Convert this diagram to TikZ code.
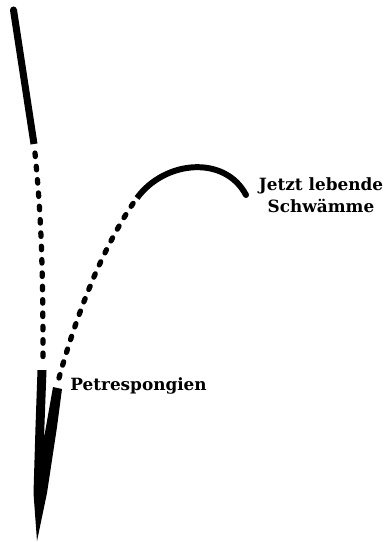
\documentclass[tikz,border=0pt]{standalone}
\usepackage{fontspec}
\newfontfamily\slabfont{DejaVu Serif}
\tikzset{
  beads/.style={line width=3pt, line cap=round, dash pattern=on 2pt off 5.6pt},
  stem/.style={line width=4pt},
  namefont/.style={font=\slabfont\bfseries\fontsize{9.6}{12.5}\selectfont, inner sep=0pt, align=center}
}
\begin{document}
\begin{tikzpicture}[x=0.02cm,y=-0.02cm]
\useasboundingbox (0,0) rectangle (392,542);

%upper stem
\draw[stem] (34,144) -- (13.5,10);
\fill (13.5,10) circle (2pt);
\draw[beads] (35,153) .. controls (41,215) and (43,260) .. (43,364);

%lower stems
\fill (37.5,370) -- (46.5,370) -- (44,438) -- (53,387) -- (62,389) -- (57,427)
      -- (47,493) -- (37,541) -- (33.5,493) -- (35.5,427) -- cycle;

%branch to living sponges
\draw[beads] (59,378) .. controls (75,320) and (100,252) .. (134,202);
\draw[line width=3.4pt] (137,198) .. controls (165,160) and (225,155) .. (246,195);
\fill (246,195) circle (1.7pt);

%labels
\node[namefont, anchor=base] (lebend) at (321,212) {Jetzt lebende\\Schwämme};
\node[namefont, anchor=base west] (petro) at (70,390) {Petrespongien};
\end{tikzpicture}
\end{document}
